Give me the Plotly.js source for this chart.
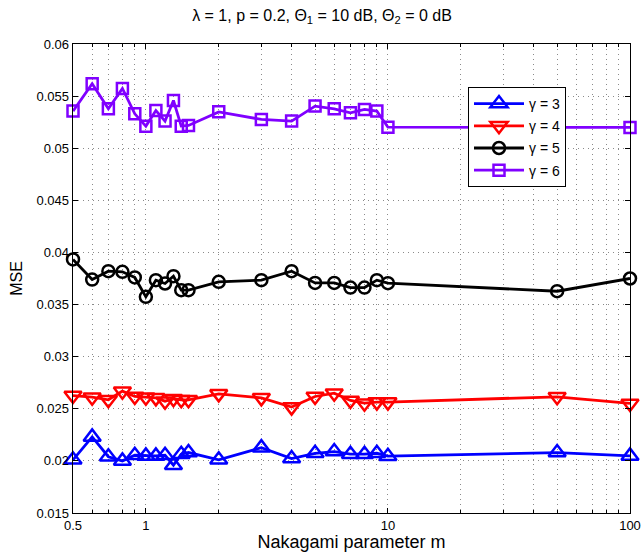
<!DOCTYPE html>
<html>
<head>
<meta charset="utf-8">
<script src="https://cdn.plot.ly/plotly-3.0.1.min.js"></script>
<style>html,body{margin:0;padding:0;background:#fff;}#chart{width:643px;height:552px;}</style>
</head>
<body>
<div id="chart"></div>
<script>
// Nakagami parameter m
var mValues = [0.5, 0.6, 0.7, 0.8, 0.9, 1, 1.1, 1.2, 1.3, 1.4, 1.5, 2, 3, 4, 5, 6, 7, 8, 9, 10, 50, 100];

// MSE series
var mseGamma3 = [0.0201, 0.0223, 0.0204, 0.0200, 0.02054, 0.02048, 0.02048, 0.02054, 0.01959, 0.02064, 0.0208,
                 0.0201, 0.02127, 0.02022, 0.02073, 0.02089, 0.02064, 0.02064, 0.02073, 0.02045, 0.0208, 0.02048];
var mseGamma4 = [0.02627, 0.02611, 0.02586, 0.02669, 0.02618, 0.02611, 0.02605, 0.02573, 0.02596, 0.02586, 0.02586,
                 0.02643, 0.02605, 0.02516, 0.02618, 0.0265, 0.0258, 0.02554, 0.02564, 0.02564, 0.02615, 0.02551];
var mseGamma5 = [0.03933, 0.0374, 0.0382, 0.03814, 0.0376, 0.03574, 0.03734, 0.03702, 0.03772, 0.03638, 0.03638,
                 0.03718, 0.03734, 0.0382, 0.03708, 0.03708, 0.03663, 0.03663, 0.03734, 0.03705, 0.03628, 0.0375];
var mseGamma6 = [0.05356, 0.05619, 0.05378, 0.05574, 0.0533, 0.05212, 0.05362, 0.0526, 0.05458, 0.05212, 0.05218,
                 0.05349, 0.05276, 0.0526, 0.05404, 0.05378, 0.0534, 0.05372, 0.05356, 0.05202, 0.0520, 0.0520];

var seriesNames = ['\u03b3 = 3', '\u03b3 = 4', '\u03b3 = 5', '\u03b3 = 6'];

// ticks
var xTickVals = [0.5, 1, 10, 100];
var xTickText = ['0.5', '1', '10', '100'];
var xMinorVals = [0.6, 0.7, 0.8, 0.9, 2, 3, 4, 5, 6, 7, 8, 9, 20, 30, 40, 50, 60, 70, 80, 90];
var yTickVals = [0.015, 0.02, 0.025, 0.03, 0.035, 0.04, 0.045, 0.05, 0.055, 0.06];
var yTickText = ['0.015', '0.02', '0.025', '0.03', '0.035', '0.04', '0.045', '0.05', '0.055', '0.06'];

var FONT = 'Liberation Sans, Arial, sans-serif';
var LW = 2.8;

function mk(y, name, color, symbol, size, idx) {
  return {
    x: mValues, y: y, name: name, type: 'scatter', mode: 'lines+markers',
    legendgroup: 'g' + idx,
    cliponaxis: false,
    line: {color: color, width: LW},
    marker: {symbol: symbol, size: size, color: color, line: {color: color, width: 2.5}}
  };
}

var data = [
  mk(mseGamma3, seriesNames[0], '#0000ff', 'triangle-up-open', 15, 0),
  mk(mseGamma4, seriesNames[1], '#ff0000', 'triangle-down-open', 15, 1),
  mk(mseGamma5, seriesNames[2], '#000000', 'circle-open', 12, 2),
  mk(mseGamma6, seriesNames[3], '#8000ff', 'square-open', 11, 3)
];

var gridColor = '#8a8a8a';
var gridDash = '1px,4px';

var layout = {
  width: 643, height: 552,
  paper_bgcolor: '#ffffff', plot_bgcolor: '#ffffff',
  margin: {l: 73, r: 13, t: 44, b: 39},
  font: {family: FONT, size: 13, color: '#000'},
  title: {
    text: '\u03bb = 1, p = 0.2, \u0398<sub>1</sub> = 10 dB, \u0398<sub>2</sub> = 0 dB',
    font: {family: FONT, size: 16, color: '#000'},
    x: 322 / 643, xref: 'container', xanchor: 'center',
    y: 1 - 15 / 552, yref: 'container', yanchor: 'middle'
  },
  xaxis: {
    type: 'log',
    range: [Math.log10(0.5), 2],
    tickmode: 'array', tickvals: xTickVals, ticktext: xTickText,
    ticks: 'inside', ticklen: 5, tickcolor: '#000', tickwidth: 1,
    showline: true, linecolor: '#000', linewidth: 1.4, mirror: 'allticks',
    showgrid: true, gridcolor: gridColor, griddash: gridDash, gridwidth: 1,
    zeroline: false,
    tickfont: {family: FONT, size: 13, color: '#000'},
    minor: {tickmode: 'array', tickvals: xMinorVals, ticks: 'inside', ticklen: 3, tickcolor: '#000',
            showgrid: true, gridcolor: gridColor, griddash: gridDash, gridwidth: 1},
    title: {text: 'Nakagami parameter m', font: {family: FONT, size: 18, color: '#000'}, standoff: 4},
    automargin: false
  },
  yaxis: {
    range: [0.015, 0.06],
    tickmode: 'array', tickvals: yTickVals, ticktext: yTickText,
    ticks: 'inside', ticklen: 5, tickcolor: '#000', tickwidth: 1,
    showline: true, linecolor: '#000', linewidth: 1.4, mirror: 'allticks',
    showgrid: true, gridcolor: gridColor, griddash: gridDash, gridwidth: 1,
    zeroline: false,
    tickfont: {family: FONT, size: 13, color: '#000'},
    title: {text: 'MSE', font: {family: FONT, size: 16, color: '#000'}, standoff: 10},
    automargin: false
  },
  showlegend: true,
  legend: {
    x: (468 - 73) / 557, y: (513 - 87) / 469, xanchor: 'left', yanchor: 'top',
    bgcolor: '#ffffff', bordercolor: '#000', borderwidth: 1,
    font: {family: FONT, size: 14, color: '#000'},
    itemwidth: 50,
    traceorder: 'grouped',
    tracegroupgap: 1
  }
};

Plotly.newPlot('chart', data, layout, {displayModeBar: false, staticPlot: true});
</script>
</body>
</html>
